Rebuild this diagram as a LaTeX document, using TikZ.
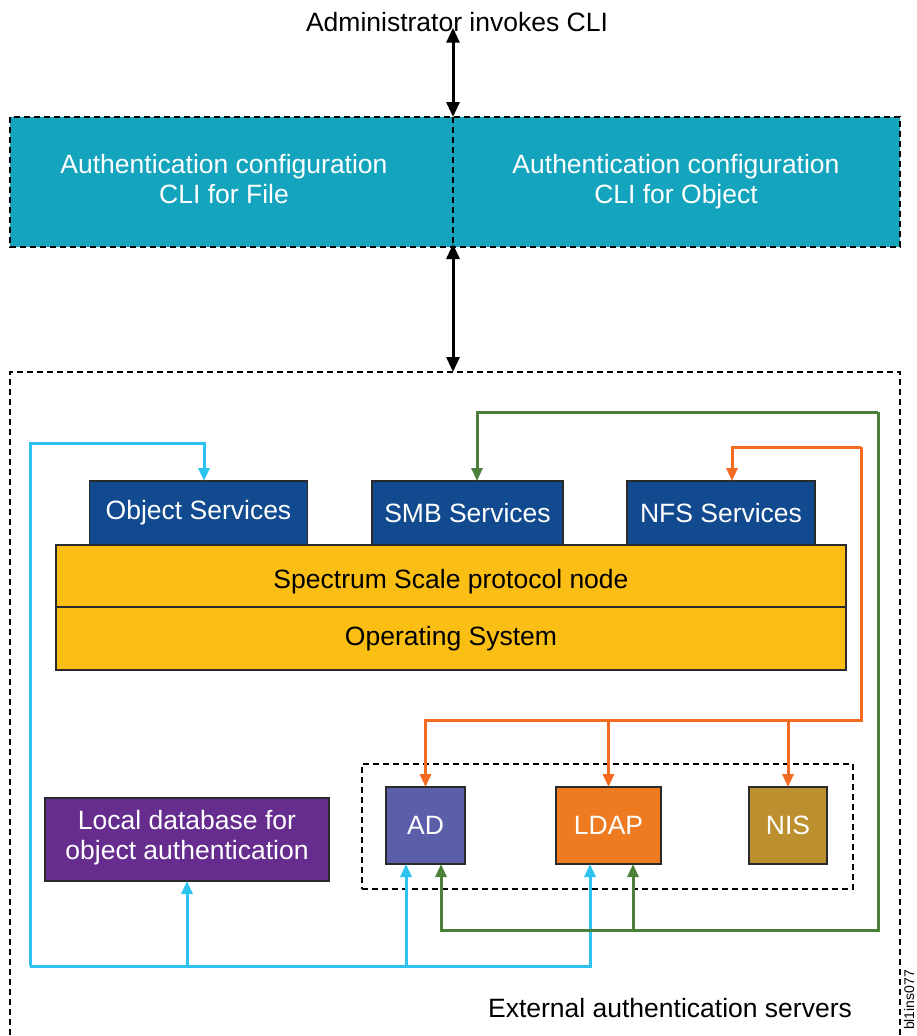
\documentclass[tikz,border=0pt]{standalone}
\usepackage{fontspec}
\setmainfont{Liberation Sans}
\usetikzlibrary{arrows.meta,calc}
\definecolor{tealc}{HTML}{14A4BD}
\definecolor{svcblue}{HTML}{124A8F}
\definecolor{yellowc}{HTML}{FBBE14}
\definecolor{purplec}{HTML}{662D8F}
\definecolor{adc}{HTML}{5B5EA8}
\definecolor{ldapc}{HTML}{EE7B22}
\definecolor{nisc}{HTML}{BC8F2F}
\definecolor{cyanl}{HTML}{2CC3F0}
\definecolor{greenl}{HTML}{4B7F3A}
\definecolor{orangel}{HTML}{F26B21}
\definecolor{edgec}{HTML}{2A2A2A}
\begin{document}
\begin{tikzpicture}[x=1pt,y=-1pt,
  font=\fontsize{26.5}{30}\selectfont,
  every node/.style={inner sep=0pt,outer sep=0pt},
  svcbox/.style={draw=edgec,line width=1.8pt,fill=svcblue,text=white,minimum height=64pt},
  layerbox/.style={draw=edgec,line width=1.8pt,fill=yellowc,text=black,minimum width=790pt},
  srvbox/.style={draw=edgec,line width=1.8pt,text=white,minimum height=77pt},
  bigdash/.style={draw=black,line width=2.6pt,dash pattern=on 6pt off 4pt},
  smalldash/.style={draw=black,line width=1.5pt,dash pattern=on 6pt off 4pt},
  blk/.style={draw=black,line width=3pt,{Triangle[length=15pt,width=13pt]}-{Triangle[length=15pt,width=13pt]}},
  conn/.style={line width=3pt},
  tip/.style={-{Triangle[length=13pt,width=11pt]}}
]
\fill[white] (0,0) rectangle (917,1036);
\useasboundingbox (0,0) rectangle (917,1036);

% top text
\node (admin) at (457,22) {Administrator invokes CLI};

% teal CLI band
\fill[tealc] (10,117) rectangle (900,247);
\coordinate (tealtop) at (453,117);
\coordinate (tealbot) at (453,247);
\draw[bigdash] (10,117) rectangle (900,247);
\draw[bigdash] (tealtop) -- (tealbot);
\node[text=white,align=center] (clifile) at (224,179) {Authentication configuration\\CLI for File};
\node[text=white,align=center] (cliobj) at (676,182) {Authentication configuration\\CLI for Object};

% outer box
\coordinate (outertop) at (453,372);
\draw[bigdash] (10,1045) -- (10,372) -- (900,372) -- (900,1045);

\draw[blk] ([yshift=4pt]admin.south -| tealtop) -- (tealtop);
\draw[blk] ([yshift=3pt]tealbot) -- (outertop);

% services
\node[svcbox,minimum width=218pt] (objsvc) at (198.5,513) {Object Services};
\node[svcbox,minimum width=191pt] (smbsvc) at (467.5,513) {SMB Services};
\node[svcbox,minimum width=188pt] (nfssvc) at (721,513) {NFS Services};

% layers
\node[layerbox,minimum height=62pt,text height=30pt,text depth=5.5pt] (spectrum) at (451,576) {Spectrum Scale protocol node};
\node[layerbox,minimum height=63pt] (os) at (451,638.5) {Operating System};

% servers
\node[smalldash,minimum width=491pt,minimum height=125pt] (extbox) at (607.5,826.5) {};
\node[srvbox,fill=adc,minimum width=79pt] (ad) at (425.5,825.5) {AD};
\node[srvbox,fill=ldapc,minimum width=105pt] (ldap) at (608.5,825.5) {LDAP};
\node[srvbox,fill=nisc,minimum width=78pt] (nis) at (788,825.5) {NIS};
\node[draw=edgec,line width=1.8pt,fill=purplec,text=white,align=center,minimum width=284pt,minimum height=83pt] (localdb) at (187,839.5) {Local database for\\object authentication\rule{0pt}{0pt}\vspace{3pt}};

\node (exttext) at (670,1008) {External authentication servers};
\node[rotate=90,font=\fontsize{14}{16}\selectfont,text=black] (figid) at (909,1000) {bl1ins077};

% cyan connectors
\coordinate (cyb) at (30,966);
\coordinate (cyt) at (30,443);
\draw[cyanl,conn,tip] (cyb) -- (cyt) -| ([xshift=5.5pt]objsvc.north);
\draw[cyanl,conn,tip] (cyb) -| (localdb.south);
\draw[cyanl,conn,tip] (cyb) -| ([xshift=-19.5pt]ad.south);
\draw[cyanl,conn,tip] (cyb) -| ([xshift=-18.5pt]ldap.south);

% green connectors
\coordinate (grt) at (878,412);
\coordinate (grb) at (878,930);
\draw[greenl,conn,tip] (grt) -| ([xshift=9.5pt]smbsvc.north);
\draw[greenl,conn,tip] (grt) -- (grb) -| ([xshift=15.5pt]ad.south);
\draw[greenl,conn,tip] (grb) -| ([xshift=24.5pt]ldap.south);

% orange connectors
\coordinate (ort) at (861,447);
\coordinate (orb) at (861,720);
\draw[orangel,conn,tip] (ort) -| ([xshift=11pt]nfssvc.north);
\draw[orangel,conn,tip] (ort) -- (orb) -| (ad.north);
\draw[orangel,conn,tip] (orb) -| (ldap.north);
\draw[orangel,conn,tip] (orb) -| (nis.north);
\end{tikzpicture}
\end{document}
